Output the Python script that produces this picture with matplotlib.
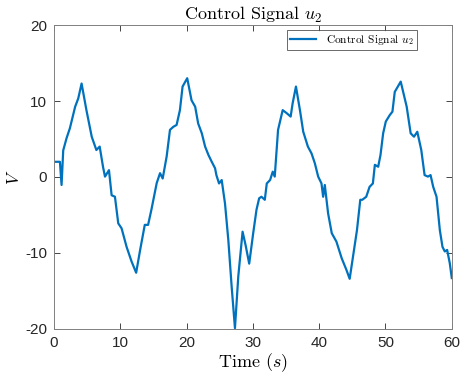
import numpy as np
import matplotlib
matplotlib.use("Agg")
import matplotlib.pyplot as plt

# traced control signal u2 (time in s, value in V)
t = [0.0, 0.9, 1.15, 1.4, 1.9, 2.4, 3.2, 3.67, 4.17, 4.9, 5.7, 6.4, 6.9, 7.4, 7.7,
     8.3, 8.7, 9.2, 9.7, 10.2, 10.96, 11.7, 12.4, 13.0, 13.7, 14.2, 14.7, 15.5,
     16.0, 16.4, 17.0, 17.5, 18.0, 18.5, 19.0, 19.4, 20.1, 20.75, 21.3, 21.75,
     22.3, 22.8, 23.3, 23.8, 24.3, 24.5, 24.9, 25.3, 25.8, 26.3, 26.8, 27.3,
     27.8, 28.45, 28.9, 29.45, 30.05, 30.55, 30.95, 31.3, 31.8, 32.1, 32.6, 33.0,
     33.3, 33.8, 34.5, 35.1, 35.7, 36.0, 36.5, 37.1, 37.6, 38.3, 38.85, 39.35,
     39.85, 40.35, 40.6, 40.85, 41.35, 41.9, 42.6, 43.4, 44.1, 44.6, 45.1, 45.7,
     46.2, 46.5, 47.1, 47.6, 48.1, 48.4, 48.9, 49.25, 49.65, 50.05, 50.65, 51.05,
     51.4, 52.3, 53.2, 53.8, 54.3, 54.8, 55.4, 55.9, 56.4, 56.8, 57.2, 57.7,
     58.2, 58.6, 58.95, 59.3, 59.7, 60.0]
u2 = [2.0, 2.0, -1.05, 3.5, 5.1, 6.4, 9.25, 10.35, 12.3, 8.8, 5.3, 3.55, 4.0, 1.35, 0.05,
      0.9, -2.4, -2.6, -6.1, -6.75, -9.2, -11.1, -12.6, -9.6, -6.3, -6.3, -4.3, -0.8,
      0.5, -0.2, 2.7, 6.2, 6.6, 6.85, 8.8, 11.9, 13.0, 10.1, 9.25, 7.05,
      5.75, 4.0, 2.9, 2.0, 1.15, 0.25, -0.85, -0.4, -3.5, -8.3, -14.4, -19.9,
      -13.1, -7.2, -8.95, -11.4, -7.4, -4.3, -2.8, -2.6, -3.0, -0.85, -0.4, 0.7,
      0.05, 6.2, 8.8, 8.4, 7.95, 9.7, 11.9, 8.8, 5.95, 4.0, 3.1, 1.8,
      0.05, -0.85, -2.6, -1.05, -4.8, -7.4, -8.5, -10.7, -12.2, -13.4, -10.5, -7.0,
      -3.0, -3.0, -2.6, -1.3, -0.85, 1.6, 1.35, 2.9, 5.75, 7.3, 8.15, 8.6,
      11.2, 12.55, 9.25, 5.75, 5.3, 5.95, 3.55, 0.25, 0.05, 0.25, -1.3, -2.6,
      -7.0, -9.2, -9.8, -9.6, -11.35, -13.3]

plt.rcParams["font.family"] = "serif"
plt.rcParams["font.serif"] = ["cmr10"]
plt.rcParams["mathtext.fontset"] = "cm"
plt.rcParams["axes.formatter.use_mathtext"] = True

fig = plt.figure(figsize=(4.61, 3.79), dpi=100)
ax = fig.add_axes([0.117, 0.132, 0.863, 0.802])
ax.plot(t, u2, color="#0072BD", linewidth=1.6, label="Control Signal $u_2$")

ax.set_xlim(0, 60)
ax.set_ylim(-20, 20)
ax.set_xticks([0, 10, 20, 30, 40, 50, 60])
ax.set_yticks([-20, -10, 0, 10, 20])
ax.set_xticklabels(["0", "10", "20", "30", "40", "50", "60"], family="Liberation Sans")
ax.set_yticklabels(["-20", "-10", "0", "10", "20"], family="Liberation Sans")
ax.tick_params(direction="in", length=4, width=0.6, top=True, right=True,
               labelsize=11, colors="#262626", pad=5)
for s in ax.spines.values():
    s.set_color("#808080")
    s.set_linewidth(0.7)

ax.set_title("Control Signal $u_2$", fontsize=13, pad=4)
ax.set_xlabel("Time ($s$)", fontsize=13, labelpad=1)
ax.set_ylabel("$V$", fontsize=12.5, labelpad=2)

leg = ax.legend(loc="upper right", fontsize=8.2, frameon=True, fancybox=False,
                handlelength=2.3, borderpad=0.3, borderaxespad=0,
                bbox_to_anchor=(0.912, 0.985))
leg.get_frame().set_edgecolor("#262626")
leg.get_frame().set_linewidth(0.6)

fig.savefig("out.png", dpi=100)
